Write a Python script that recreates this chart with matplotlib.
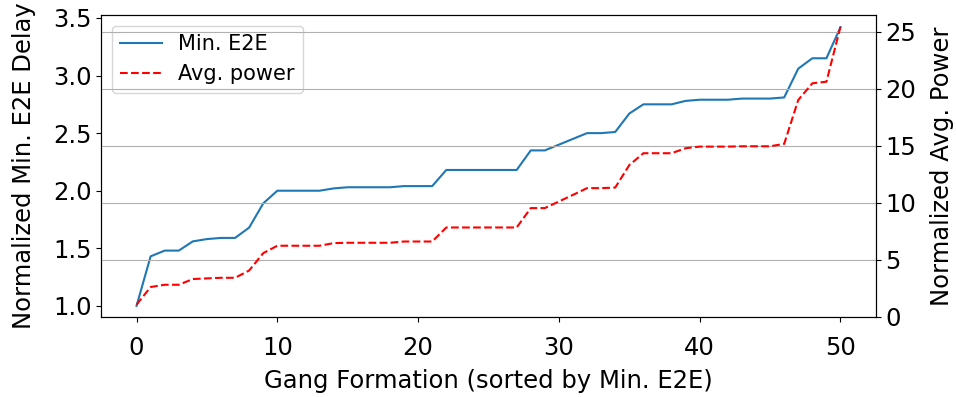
import matplotlib
matplotlib.use("Agg")
import matplotlib.pyplot as plt

# Gang formations, sorted by normalized minimum end-to-end delay
formation = list(range(51))
min_e2e = [1.00, 1.43, 1.48, 1.48, 1.56, 1.58, 1.59, 1.59, 1.68, 1.89,
           2.00, 2.00, 2.00, 2.00, 2.02, 2.03, 2.03, 2.03, 2.03, 2.04,
           2.04, 2.04, 2.18, 2.18, 2.18, 2.18, 2.18, 2.18, 2.35, 2.35,
           2.40, 2.45, 2.50, 2.50, 2.51, 2.67, 2.75, 2.75, 2.75, 2.78,
           2.79, 2.79, 2.79, 2.80, 2.80, 2.80, 2.81, 3.06, 3.15, 3.15,
           3.42]
avg_power = [1.06, 2.61, 2.81, 2.81, 3.31, 3.37, 3.42, 3.42, 4.06, 5.58,
             6.23, 6.23, 6.23, 6.23, 6.46, 6.49, 6.49, 6.49, 6.49, 6.60,
             6.60, 6.60, 7.83, 7.83, 7.83, 7.83, 7.83, 7.83, 9.53, 9.53,
             10.11, 10.69, 11.28, 11.28, 11.33, 13.30, 14.34, 14.34, 14.34, 14.78,
             14.92, 14.92, 14.92, 14.95, 14.95, 14.95, 15.16, 19.01, 20.47, 20.61,
             25.43]

plt.rcParams['font.size'] = 17.5

fig, ax = plt.subplots(figsize=(9.56, 3.97), dpi=100)
fig.subplots_adjust(left=0.106, right=0.916, bottom=0.202, top=0.962)

l1, = ax.plot(formation, min_e2e, color='tab:blue', label='Min. E2E')
ax.set_xlabel('Gang Formation (sorted by Min. E2E)', labelpad=7)
ax.set_ylabel('Normalized Min. E2E Delay', labelpad=12)
ax.set_ylim(0.905, 3.525)
ax.set_xlim(-2.5, 52.5)
ax.tick_params(axis='x', pad=10)

ax2 = ax.twinx()
l2, = ax2.plot(formation, avg_power, 'r--', label='Avg. power')
ax2.set_ylabel('Normalized Avg. Power', labelpad=10)
ax2.set_ylim(0, 26.45)
ax2.grid(True, axis='y')

ax.legend(handles=[l1, l2], loc='upper left', fontsize=15)

fig.savefig('out.png')
